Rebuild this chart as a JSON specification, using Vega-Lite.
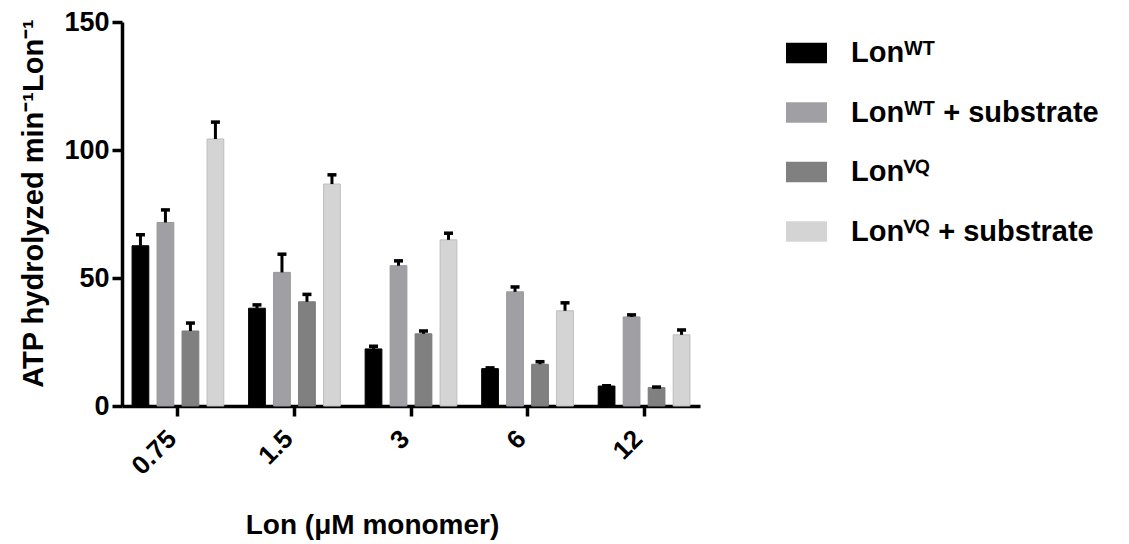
{
  "$schema": "https://vega.github.io/schema/vega-lite/v6.json",
  "width": 578,
  "height": 384,
  "autosize": {"type": "none"},
  "padding": {"left": 122, "top": 22, "right": 429, "bottom": 138},
  "background": "white",
  "config": {"view": {"stroke": null}, "font": "Liberation Sans, Arial, sans-serif"},
  "data": {
    "values": [
      {"conc": "0.75", "series": "WT", "value": 62.6, "upper": 66.9},
      {"conc": "0.75", "series": "WTS", "value": 71.7, "upper": 76.6},
      {"conc": "0.75", "series": "VQ", "value": 29.3, "upper": 32.4},
      {"conc": "0.75", "series": "VQS", "value": 104.3, "upper": 110.9},
      {"conc": "1.5", "series": "WT", "value": 38.2, "upper": 39.5},
      {"conc": "1.5", "series": "WTS", "value": 52.2, "upper": 59.3},
      {"conc": "1.5", "series": "VQ", "value": 40.7, "upper": 43.6},
      {"conc": "1.5", "series": "VQS", "value": 86.7, "upper": 90.3},
      {"conc": "3", "series": "WT", "value": 22.3, "upper": 23.3},
      {"conc": "3", "series": "WTS", "value": 54.8, "upper": 56.7},
      {"conc": "3", "series": "VQ", "value": 28.2, "upper": 29.3},
      {"conc": "3", "series": "VQS", "value": 64.9, "upper": 67.5},
      {"conc": "6", "series": "WT", "value": 14.6, "upper": 14.9},
      {"conc": "6", "series": "WTS", "value": 44.6, "upper": 46.5},
      {"conc": "6", "series": "VQ", "value": 16.3, "upper": 17.3},
      {"conc": "6", "series": "VQS", "value": 37.2, "upper": 40.3},
      {"conc": "12", "series": "WT", "value": 7.8, "upper": 7.9},
      {"conc": "12", "series": "WTS", "value": 34.8, "upper": 35.6},
      {"conc": "12", "series": "VQ", "value": 7.2, "upper": 7.4},
      {"conc": "12", "series": "VQS", "value": 27.8, "upper": 29.7}
    ]
  },
  "encoding": {
    "x": {
      "field": "conc",
      "type": "ordinal",
      "sort": ["0.75", "1.5", "3", "6", "12"],
      "scale": {"paddingInner": 0.14, "paddingOuter": 0.05},
      "axis": {
        "title": "Lon (μM monomer)",
        "labelAngle": -45,
        "labelFontSize": 26,
        "labelFontWeight": "bold",
        "labelColor": "black",
        "labelAlign": "right",
        "labelBaseline": "alphabetic",
        "labelPadding": 24,
        "domainColor": "black",
        "domainWidth": 3.5,
        "tickColor": "black",
        "tickWidth": 3.5,
        "tickSize": 10,
        "titleFontSize": 28,
        "titleFontWeight": "bold",
        "titleColor": "black",
        "titleX": 250,
        "titleY": 127,
        "titleBaseline": "alphabetic",
        "titleAlign": "center"
      }
    },
    "xOffset": {
      "field": "series",
      "type": "nominal",
      "sort": ["WT", "WTS", "VQ", "VQS"],
      "scale": {"paddingInner": 0.33, "paddingOuter": 0.17}
    }
  },
  "layer": [
    {
      "mark": {"type": "bar", "strokeWidth": 1},
      "encoding": {
        "y": {
          "field": "value",
          "type": "quantitative",
          "scale": {"domain": [0, 150], "nice": false},
          "axis": {
            "title": "ATP hydrolyzed min⁻¹Lon⁻¹",
            "values": [0, 50, 100, 150],
            "grid": false,
            "domainColor": "black",
            "domainWidth": 3.5,
            "tickColor": "black",
            "tickWidth": 3.5,
            "tickSize": 10,
            "labelFontSize": 27,
            "labelFontWeight": "bold",
            "labelColor": "black",
            "labelPadding": 3,
            "titleFontSize": 29,
            "titleFontWeight": "bold",
            "titleColor": "black",
            "titleX": -80,
            "titleY": 181,
            "titleAngle": -90,
            "titleBaseline": "alphabetic",
            "titleAlign": "center"
          }
        },
        "color": {
          "field": "series",
          "type": "nominal",
          "sort": ["WT", "WTS", "VQ", "VQS"],
          "scale": {"domain": ["WT", "WTS", "VQ", "VQS"], "range": ["#000000", "#a0a0a4", "#808080", "#d4d4d4"]},
          "legend": {
            "title": null,
            "orient": "none",
            "legendX": 664,
            "legendY": 10.5,
            "symbolType": "M-1,-0.5H1V0.5H-1Z",
            "symbolSize": 1681,
            "symbolStrokeWidth": 0,
            "symbolOpacity": 1,
            "labelFontSize": 29,
            "labelFontWeight": "bold",
            "labelColor": "black",
            "labelOffset": 24,
            "rowPadding": 23.5,
            "labelLimit": 400,
            "labelExpr": "datum.value == 'WT' ? 'Lonᵂᵀ' : datum.value == 'WTS' ? 'Lonᵂᵀ + substrate' : datum.value == 'VQ' ? 'Lonⱽꟴ' : 'Lonⱽꟴ + substrate'"
          }
        },
        "stroke": {
          "field": "series",
          "type": "nominal",
          "scale": {"domain": ["WT", "WTS", "VQ", "VQS"], "range": ["#000000", "#98989c", "#7a7a7a", "#bdbdbd"]},
          "legend": null
        }
      }
    },
    {
      "mark": {"type": "rule", "strokeWidth": 3, "color": "black"},
      "encoding": {
        "y": {"field": "value", "type": "quantitative"},
        "y2": {"field": "upper"}
      }
    },
    {
      "mark": {"type": "tick", "thickness": 3.5, "size": 9, "color": "black", "opacity": 1},
      "encoding": {
        "y": {"field": "upper", "type": "quantitative"}
      }
    }
  ]
}
